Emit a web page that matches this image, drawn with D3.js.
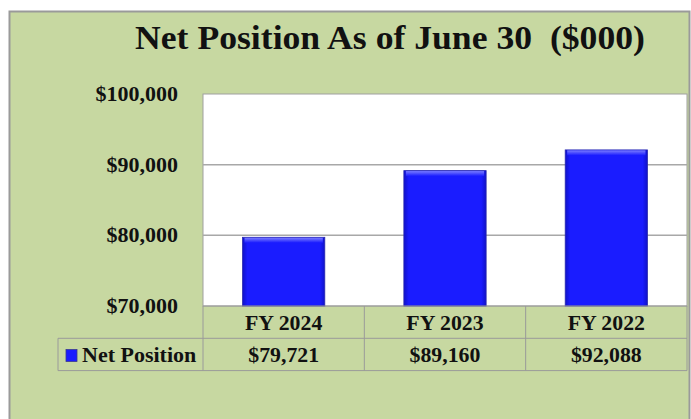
<!DOCTYPE html>
<html>
<head>
<meta charset="utf-8">
<script src="https://cdn.jsdelivr.net/npm/d3@7"></script>
<style>
  body { margin: 0; background: #fff; }
  text { font-family: "Liberation Serif", "Times New Roman", serif; font-weight: bold; fill: #111; }
</style>
</head>
<body>
<svg id="chart" width="691" height="419"></svg>
<script>
// data
const years = ["FY 2024", "FY 2023", "FY 2022"];
const netPosition = [79721, 89160, 92088];
const yTicks = [70000, 80000, 90000, 100000];
const seriesName = "Net Position";

const width = 691, height = 419,
      plot = {left: 203, right: 687, top: 94, bottom: 306},
      rowH = 32.3,
      barColor = "#1a1cff";

const svg = d3.select("#chart");

// the source text is a little wider than plain Times
function widen(sel, k) {
  sel.each(function() {
    const w = this.getComputedTextLength();
    d3.select(this).attr("textLength", w * k).attr("lengthAdjust", "spacingAndGlyphs");
  });
}

// panel
svg.append("rect")
  .attr("x", 9.5).attr("y", 11.5)
  .attr("width", width - 11).attr("height", height)
  .attr("fill", "#c7d8a1")
  .attr("stroke", "#9a9a9a").attr("stroke-width", 2);

svg.append("text")
  .attr("x", 390).attr("y", 48.5)
  .attr("text-anchor", "middle")
  .attr("font-size", 33)
  .attr("xml:space", "preserve")
  .text("Net Position As of June 30  ($000)")
  .call(widen, 1.08);

const x = d3.scaleBand().domain(years).range([plot.left, plot.right]).paddingInner(0).paddingOuter(0);
const y = d3.scaleLinear().domain([70000, 100000]).range([plot.bottom, plot.top]);

svg.append("rect")
  .attr("x", plot.left).attr("y", plot.top)
  .attr("width", plot.right - plot.left).attr("height", plot.bottom - plot.top)
  .attr("fill", "#fff").attr("stroke", "#a0a0a0");

// gridlines
svg.append("g").selectAll("line")
  .data(yTicks.slice(1, -1))
  .join("line")
  .attr("x1", plot.left).attr("x2", plot.right)
  .attr("y1", d => y(d)).attr("y2", d => y(d))
  .attr("stroke", "#a8a8a8").attr("stroke-width", 1.5);

// y axis labels
const yAxis = d3.axisLeft(y).tickValues(yTicks).tickSize(0).tickPadding(0)
  .tickFormat(d => "$" + d3.format(",")(d));
svg.append("g")
  .attr("transform", `translate(178,0)`)
  .call(yAxis)
  .call(g => g.select(".domain").remove())
  .selectAll("text")
  .attr("font-size", 20).attr("font-family", null).attr("fill", "#111")
  .call(widen, 1.1);

// bar styling
const defs = svg.append("defs");
const grad = defs.append("linearGradient").attr("id", "barGrad").attr("x1", 0).attr("x2", 1);
grad.append("stop").attr("offset", "0%").attr("stop-color", "#1012c8");
grad.append("stop").attr("offset", "6%").attr("stop-color", barColor);
grad.append("stop").attr("offset", "94%").attr("stop-color", barColor);
grad.append("stop").attr("offset", "100%").attr("stop-color", "#1012c8");
const topGrad = defs.append("linearGradient").attr("id", "barTop").attr("x1", 0).attr("x2", 0).attr("y1", 0).attr("y2", 1);
topGrad.append("stop").attr("offset", "0%").attr("stop-color", "#7a7cff");
topGrad.append("stop").attr("offset", "100%").attr("stop-color", barColor);

const barW = x.bandwidth() * 0.51;
const bars = svg.append("g").selectAll("g")
  .data(years.map((yr, i) => ({yr, v: netPosition[i]})))
  .join("g");
bars.append("rect")
  .attr("x", d => x(d.yr) + (x.bandwidth() - barW) / 2)
  .attr("y", d => y(d.v))
  .attr("width", barW)
  .attr("height", d => y(70000) - y(d.v))
  .attr("fill", "url(#barGrad)")
  .attr("stroke", "#2a2ab0").attr("stroke-width", 0.8);
bars.append("rect")
  .attr("x", d => x(d.yr) + (x.bandwidth() - barW) / 2 + 2)
  .attr("y", d => y(d.v) + 0.5)
  .attr("width", barW - 4)
  .attr("height", 5)
  .attr("fill", "url(#barTop)");

// data table
const tbl = svg.append("g").attr("stroke", "#9a9a9a").attr("fill", "none");
const r1 = plot.bottom, r2 = plot.bottom + rowH, r3 = plot.bottom + 2 * rowH;
tbl.append("line").attr("x1", plot.left).attr("x2", plot.right).attr("y1", r1).attr("y2", r1);
tbl.append("line").attr("x1", 58).attr("x2", plot.right).attr("y1", r2).attr("y2", r2);
tbl.append("line").attr("x1", 58).attr("x2", plot.right).attr("y1", r3).attr("y2", r3);
tbl.append("line").attr("x1", 58).attr("x2", 58).attr("y1", r2).attr("y2", r3);
tbl.selectAll(".col")
  .data(years.map(d => x(d)).concat([plot.right]))
  .join("line")
  .attr("x1", d => d).attr("x2", d => d)
  .attr("y1", r1).attr("y2", r3);

svg.append("g").selectAll("text")
  .data(years)
  .join("text")
  .attr("x", d => x(d) + x.bandwidth() / 2)
  .attr("y", r1 + rowH / 2 + 7.5)
  .attr("text-anchor", "middle")
  .attr("font-size", 20)
  .text(d => d)
  .call(widen, 1.09);

svg.append("g").selectAll("text")
  .data(netPosition)
  .join("text")
  .attr("x", (d, i) => x(years[i]) + x.bandwidth() / 2)
  .attr("y", r2 + rowH / 2 + 7.5)
  .attr("text-anchor", "middle")
  .attr("font-size", 20)
  .text(d => "$" + d3.format(",")(d))
  .call(widen, 1.09);

svg.append("rect")
  .attr("x", 66).attr("y", 349.5).attr("width", 11).attr("height", 12)
  .attr("fill", barColor).attr("stroke", "#3a3a90").attr("stroke-width", 0.8);
svg.append("text")
  .attr("x", 82).attr("y", r2 + rowH / 2 + 7.5)
  .attr("font-size", 20)
  .text(seriesName)
  .call(widen, 1.1);
</script>
</body>
</html>
